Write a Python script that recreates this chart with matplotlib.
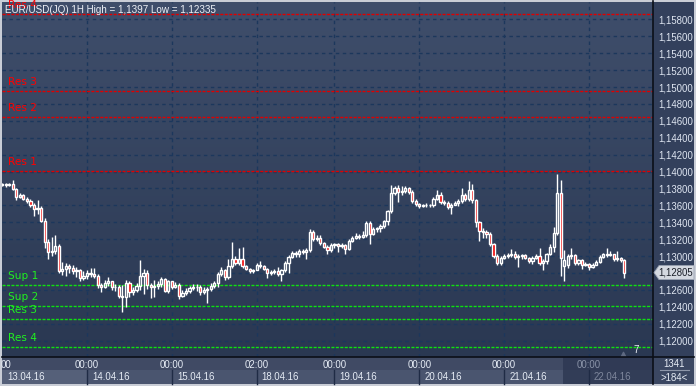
import numpy as np
import matplotlib
matplotlib.use("Agg")
import matplotlib.pyplot as plt
from matplotlib.patches import Rectangle, Polygon
from matplotlib.colors import LinearSegmentedColormap
import matplotlib.transforms as mtransforms

# ---------------- data ----------------
title = "EUR/USD(JQ) 1H High = 1,1397 Low = 1,12335"

close = [1.13850, 1.13840, 1.13855, 1.13790, 1.13700, 1.13720, 1.13680, 1.13650, 1.13600, 1.13560,
         1.13570, 1.13420, 1.13170, 1.13050, 1.13060, 1.13120, 1.12820, 1.12850, 1.12880, 1.12860,
         1.12820, 1.12830, 1.12740, 1.12760, 1.12800, 1.12790, 1.12770, 1.12660, 1.12640, 1.12680,
         1.12700, 1.12630, 1.12640, 1.12530, 1.12520, 1.12680, 1.12570, 1.12600, 1.12650, 1.12760,
         1.12800, 1.12660, 1.12640, 1.12650, 1.12670, 1.12730, 1.12590, 1.12700, 1.12640, 1.12660,
         1.12530, 1.12560, 1.12590, 1.12620, 1.12640, 1.12630, 1.12580, 1.12600, 1.12610, 1.12650,
         1.12680, 1.12790, 1.12830, 1.12750, 1.12880, 1.12960, 1.12920, 1.12970, 1.12880, 1.12850,
         1.12820, 1.12830, 1.12900, 1.12880, 1.12850, 1.12800, 1.12810, 1.12820, 1.12790, 1.12830,
         1.12920, 1.12990, 1.13040, 1.13020, 1.13060, 1.13050, 1.13070, 1.13290, 1.13200, 1.13220,
         1.13150, 1.13110, 1.13070, 1.13130, 1.13140, 1.13120, 1.13130, 1.13080, 1.13180, 1.13220,
         1.13240, 1.13230, 1.13250, 1.13390, 1.13260, 1.13320, 1.13330, 1.13360, 1.13410, 1.13530,
         1.13750, 1.13800, 1.13760, 1.13770, 1.13800, 1.13760, 1.13650, 1.13620, 1.13590, 1.13600,
         1.13610, 1.13600, 1.13680, 1.13720, 1.13640, 1.13630, 1.13580, 1.13600, 1.13630, 1.13650,
         1.13720, 1.13670, 1.13780, 1.13660, 1.13400, 1.13300, 1.13280, 1.13260, 1.13140, 1.13000,
         1.12920, 1.12980, 1.13000, 1.13010, 1.13030, 1.12990, 1.13000, 1.13010, 1.12980, 1.12940,
         1.12980, 1.13000, 1.12920, 1.12940, 1.13030, 1.13110, 1.13270, 1.13750, 1.12980, 1.12950,
         1.13000, 1.13010, 1.12920, 1.12950, 1.12890, 1.12910, 1.12870, 1.12900, 1.12930, 1.12990,
         1.13020, 1.13010, 1.13020, 1.12960, 1.12980, 1.12950, 1.12805]

open_ = [1.13845, 1.13850, 1.13840, 1.13855, 1.13790, 1.13700, 1.13720, 1.13680, 1.13650, 1.13600,
         1.13560, 1.13570, 1.13420, 1.13170, 1.13050, 1.13060, 1.13120, 1.12820, 1.12850, 1.12880,
         1.12860, 1.12820, 1.12830, 1.12740, 1.12760, 1.12800, 1.12790, 1.12770, 1.12660, 1.12640,
         1.12680, 1.12700, 1.12630, 1.12640, 1.12530, 1.12520, 1.12680, 1.12570, 1.12600, 1.12650,
         1.12760, 1.12800, 1.12660, 1.12640, 1.12650, 1.12670, 1.12730, 1.12590, 1.12700, 1.12640,
         1.12660, 1.12530, 1.12560, 1.12590, 1.12620, 1.12640, 1.12630, 1.12580, 1.12600, 1.12610,
         1.12650, 1.12680, 1.12790, 1.12830, 1.12750, 1.12880, 1.12960, 1.12920, 1.12970, 1.12880,
         1.12850, 1.12820, 1.12830, 1.12900, 1.12880, 1.12850, 1.12800, 1.12810, 1.12820, 1.12790,
         1.12830, 1.12920, 1.12990, 1.13040, 1.13020, 1.13060, 1.13050, 1.13070, 1.13290, 1.13200,
         1.13220, 1.13150, 1.13110, 1.13070, 1.13130, 1.13140, 1.13120, 1.13130, 1.13080, 1.13180,
         1.13220, 1.13240, 1.13230, 1.13250, 1.13390, 1.13260, 1.13320, 1.13330, 1.13360, 1.13410,
         1.13530, 1.13750, 1.13800, 1.13760, 1.13770, 1.13800, 1.13760, 1.13650, 1.13620, 1.13590,
         1.13600, 1.13610, 1.13600, 1.13680, 1.13720, 1.13640, 1.13630, 1.13580, 1.13600, 1.13630,
         1.13650, 1.13720, 1.13670, 1.13780, 1.13660, 1.13400, 1.13300, 1.13280, 1.13260, 1.13140,
         1.13000, 1.12920, 1.12980, 1.13000, 1.13010, 1.13030, 1.12990, 1.13000, 1.13010, 1.12980,
         1.12940, 1.12980, 1.13000, 1.12920, 1.12940, 1.13030, 1.13110, 1.13270, 1.13750, 1.12880,
         1.12890, 1.13000, 1.13010, 1.12920, 1.12950, 1.12890, 1.12910, 1.12870, 1.12900, 1.12930,
         1.12990, 1.13020, 1.13010, 1.13020, 1.12960, 1.12980, 1.12950]

high = [1.13865, 1.13860, 1.13870, 1.13900, 1.13800, 1.13750, 1.13740, 1.13700, 1.13670, 1.13630,
        1.13660, 1.13590, 1.13450, 1.13200, 1.13230, 1.13250, 1.13140, 1.12930, 1.12920, 1.12910,
        1.12900, 1.12870, 1.12850, 1.12820, 1.12830, 1.12860, 1.12860, 1.12790, 1.12680, 1.12720,
        1.12750, 1.12700, 1.12670, 1.12660, 1.12660, 1.12720, 1.12700, 1.12640, 1.12680, 1.12955,
        1.12850, 1.12830, 1.12680, 1.12720, 1.12700, 1.12750, 1.12740, 1.12720, 1.12710, 1.12690,
        1.12680, 1.12600, 1.12620, 1.12650, 1.12670, 1.12670, 1.12660, 1.12630, 1.12640, 1.12680,
        1.12710, 1.12810, 1.12870, 1.12850, 1.12970, 1.13170, 1.13000, 1.13090, 1.13110, 1.12900,
        1.12860, 1.12850, 1.12920, 1.12940, 1.12900, 1.12860, 1.12840, 1.12850, 1.12870, 1.12850,
        1.12940, 1.13010, 1.13060, 1.13060, 1.13080, 1.13080, 1.13090, 1.13320, 1.13310, 1.13250,
        1.13250, 1.13170, 1.13130, 1.13150, 1.13160, 1.13160, 1.13150, 1.13140, 1.13200, 1.13240,
        1.13270, 1.13260, 1.13300, 1.13410, 1.13410, 1.13340, 1.13350, 1.13380, 1.13430, 1.13550,
        1.13840, 1.13830, 1.13840, 1.13830, 1.13830, 1.13820, 1.13780, 1.13670, 1.13630, 1.13620,
        1.13630, 1.13620, 1.13700, 1.13780, 1.13760, 1.13660, 1.13650, 1.13630, 1.13650, 1.13670,
        1.13800, 1.13750, 1.13887, 1.13850, 1.13680, 1.13420, 1.13330, 1.13310, 1.13280, 1.13150,
        1.13020, 1.13000, 1.13030, 1.13040, 1.13080, 1.13060, 1.13020, 1.13030, 1.13030, 1.12990,
        1.13000, 1.13030, 1.13100, 1.12970, 1.13040, 1.13140, 1.13340, 1.13970, 1.13900, 1.13070,
        1.13030, 1.13100, 1.13020, 1.12970, 1.12970, 1.12930, 1.12920, 1.12920, 1.12950, 1.13010,
        1.13040, 1.13090, 1.13060, 1.13030, 1.13060, 1.12990, 1.12970]

low = [1.13830, 1.13820, 1.13830, 1.13780, 1.13660, 1.13690, 1.13660, 1.13630, 1.13580, 1.13470,
       1.13500, 1.13400, 1.13100, 1.12970, 1.13000, 1.13020, 1.12800, 1.12780, 1.12760, 1.12800,
       1.12790, 1.12750, 1.12700, 1.12720, 1.12730, 1.12750, 1.12740, 1.12620, 1.12580, 1.12620,
       1.12650, 1.12600, 1.12590, 1.12500, 1.12335, 1.12400, 1.12520, 1.12540, 1.12580, 1.12600,
       1.12550, 1.12610, 1.12500, 1.12520, 1.12610, 1.12640, 1.12570, 1.12560, 1.12610, 1.12620,
       1.12490, 1.12520, 1.12540, 1.12560, 1.12600, 1.12590, 1.12540, 1.12550, 1.12440, 1.12590,
       1.12620, 1.12640, 1.12770, 1.12720, 1.12730, 1.12860, 1.12890, 1.12900, 1.12860, 1.12830,
       1.12800, 1.12800, 1.12830, 1.12860, 1.12830, 1.12745, 1.12780, 1.12790, 1.12770, 1.12710,
       1.12810, 1.12800, 1.12980, 1.12990, 1.12990, 1.13020, 1.12970, 1.13050, 1.13180, 1.13180,
       1.13130, 1.13090, 1.13030, 1.13050, 1.13100, 1.13050, 1.13100, 1.13020, 1.13070, 1.13170,
       1.13200, 1.13200, 1.13210, 1.13230, 1.13140, 1.13250, 1.13290, 1.13280, 1.13330, 1.13370,
       1.13510, 1.13720, 1.13640, 1.13720, 1.13750, 1.13740, 1.13630, 1.13590, 1.13570, 1.13580,
       1.13580, 1.13580, 1.13580, 1.13660, 1.13620, 1.13600, 1.13560, 1.13500, 1.13600, 1.13590,
       1.13630, 1.13650, 1.13650, 1.13630, 1.13350, 1.13180, 1.13220, 1.13220, 1.13120, 1.12980,
       1.12900, 1.12900, 1.12960, 1.12980, 1.12990, 1.12970, 1.12870, 1.12970, 1.12960, 1.12920,
       1.12910, 1.12960, 1.12900, 1.12830, 1.12910, 1.13010, 1.13050, 1.13250, 1.12770, 1.12705,
       1.12860, 1.12960, 1.12900, 1.12900, 1.12850, 1.12880, 1.12840, 1.12860, 1.12890, 1.12920,
       1.12980, 1.12990, 1.13000, 1.12940, 1.12940, 1.12930, 1.12735]

# day separators (bar index), time and date labels
day_idx = [0, 24, 48, 72, 94, 118, 142, 166]
time_labels = ["00:00", "00:00", "00:00", "02:00", "00:00", "00:00", "00:00", "00:00"]
date_labels = ["13.04.16", "14.04.16", "15.04.16", "18.04.16", "19.04.16", "20.04.16", "21.04.16", "22.04.16"]

# support / resistance levels
res_red_names = ["Res 4", "Res 3", "Res 2", "Res 1"]
res_red_vals = [1.1587, 1.14955, 1.14652, 1.14008]
sup_green_names = ["Sup 1", "Sup 2", "Res 3", "Res 4"]
sup_green_vals = [1.12659, 1.12412, 1.12259, 1.11925]

y_ticks = [1.120 + 0.002 * k for k in range(20)]
last_price = 1.12805
bar_count_text = "1341"
visible_text = ">184<"

# ---------------- figure ----------------
W, H = 696, 386
fig = plt.figure(figsize=(W / 100, H / 100), dpi=100)
fig.patch.set_facecolor("#c9cdd6")

def fx(px):
    return px / W

def fy(py):
    return 1 - py / H

AX_L, AX_R, AX_T, AX_B = 2, 653, 2, 357
ax = fig.add_axes([fx(AX_L), fy(AX_B), fx(AX_R) - fx(AX_L), fy(AX_T) - fy(AX_B)])
XMIN, XMAX = -0.05, 184.1
YMIN, YMAX = 1.11806, 1.16007
ax.set_xlim(XMIN, XMAX)
ax.set_ylim(YMIN, YMAX)

# gradient background
cmap = LinearSegmentedColormap.from_list("bg", ["#2a3852", "#3f4e6b"])
grad = np.linspace(0, 1, 256).reshape(-1, 1)
ax.imshow(grad, extent=[0, 1, 0, 1], transform=ax.transAxes, cmap=cmap,
          aspect="auto", origin="lower", zorder=0)

for s in ax.spines.values():
    s.set_visible(False)

# grid
grid_c = "#1c375c"
for v in y_ticks:
    ax.axhline(v, color=grid_c, lw=1.0, ls=(0, (2.5, 2.5)), zorder=1)
for d in day_idx[1:]:
    ax.axvline(d, color=grid_c, lw=1.0, ls=(0, (2.5, 2.5)), zorder=1)

# levels
for name, v in zip(res_red_names, res_red_vals):
    ax.axhline(v, color="#e00000", lw=1.0, ls=(0, (2.2, 1)), zorder=2)
    ax.annotate(name, xy=(0, v), xycoords=("axes fraction", "data"),
                xytext=(6, 3.5), textcoords="offset pixels", color="#ff0000",
                fontsize=7.6, family="DejaVu Sans", va="bottom", ha="left", zorder=3)
for name, v in zip(sup_green_names, sup_green_vals):
    ax.axhline(v, color="#10e010", lw=1.0, ls=(0, (2.2, 1)), zorder=2)
    ax.annotate(name, xy=(0, v), xycoords=("axes fraction", "data"),
                xytext=(6, 3.5), textcoords="offset pixels", color="#20f020",
                fontsize=7.6, family="DejaVu Sans", va="bottom", ha="left", zorder=3)

# candles
o = np.array(open_); c = np.array(close); h = np.array(high); l = np.array(low)
x = np.arange(len(c))
top = np.maximum(o, c); bot = np.minimum(o, c)
ax.vlines(x, top, h, color="white", lw=1.0, zorder=4)
ax.vlines(x, l, bot, color="white", lw=1.0, zorder=4)
bw = 0.62
up = c >= o
body_h = np.maximum(top - bot, 0.00002)
ax.bar(x[up], body_h[up], bottom=bot[up], width=bw, facecolor="none",
       edgecolor="white", linewidth=1.0, zorder=5)
ax.bar(x[~up], body_h[~up], bottom=bot[~up], width=bw, facecolor="#ee0000",
       edgecolor="white", linewidth=1.0, zorder=5)

# right price axis
ax.yaxis.tick_right()
ax.set_yticks(y_ticks)
ax.set_yticklabels([("%.5f" % v).replace(".", ",") for v in y_ticks])
ax.tick_params(axis="y", length=0, pad=4, labelsize=6.9, labelcolor="#dfe6f2")
for t in ax.get_yticklabels():
    t.set_family("Liberation Sans")
ax.set_xticks([])

# title
ax.text(3 / (AX_R - AX_L), 1 - 8 / (AX_B - AX_T), title, transform=ax.transAxes,
        color="#eef1f7", fontsize=7.1, family="Liberation Sans", va="center", ha="left", zorder=6)

# right panel background
fig.add_artist(Rectangle((fx(AX_R), fy(AX_B)), fx(694) - fx(AX_R), fy(2) - fy(AX_B),
                         transform=fig.transFigure, facecolor="#33405c", edgecolor="none", zorder=-5))
# bottom panel
fig.add_artist(Rectangle((fx(2), fy(384)), fx(AX_R) - fx(2), fy(AX_B) - fy(384),
                         transform=fig.transFigure, facecolor="#4a556f", edgecolor="none", zorder=-5))
fig.add_artist(Rectangle((fx(2), fy(370)), fx(AX_R) - fx(2), fy(AX_B) - fy(370),
                         transform=fig.transFigure, facecolor="#404a64", edgecolor="none", zorder=-4))
fig.add_artist(Rectangle((fx(AX_R), fy(384)), fx(694) - fx(AX_R), fy(AX_B) - fy(384),
                         transform=fig.transFigure, facecolor="#3b4762", edgecolor="none", zorder=-4))

# bottom labels bound to data x
blend = mtransforms.blended_transform_factory(ax.transData, fig.transFigure)
px_per_unit = (AX_R - AX_L) / (XMAX - XMIN)
fig.add_artist(Rectangle((XMIN, fy(384)), (day_idx[1] - XMIN), fy(370) - fy(384),
                         transform=blend, facecolor="#556079", edgecolor="none", zorder=-3))
for i, (d, tl, dl) in enumerate(zip(day_idx, time_labels, date_labels)):
    last = i == len(day_idx) - 1
    tc = "#8a93a8" if last else "#e6ecf5"
    dc = "#7e879c" if last else "#e6ecf5"
    txt = fig.text(d, fy(365), tl, transform=blend, color=tc, fontsize=6.9,
                   family="Liberation Sans", ha="center", va="center", zorder=3)
    if i == 0:
        txt.set_text(tl[-2:])
        txt.set_x(d + 4 / px_per_unit)
    fig.text(d + 5 / px_per_unit, fy(377), dl, transform=blend, color=dc, fontsize=6.9,
             family="Liberation Sans", ha="left", va="center", zorder=3)
    if i > 0:
        fig.add_artist(plt.Line2D([d, d], [fy(370), fy(384)], transform=blend,
                                  color="#1f2b45", lw=1, zorder=2))
# darker overlay on the right of the time scale
ov_start = 158.6
fig.add_artist(Rectangle((ov_start, fy(384)), XMAX - ov_start, fy(AX_B) - fy(384),
                         transform=blend, facecolor="#2b3550", alpha=0.75, edgecolor="none", zorder=1))

# separator lines
fig.add_artist(plt.Line2D([fx(AX_R), fx(AX_R)], [fy(384), fy(1)], transform=fig.transFigure,
                          color="#0b0f18", lw=1.2, zorder=10))
fig.add_artist(plt.Line2D([fx(2), fx(694)], [fy(AX_B), fy(AX_B)], transform=fig.transFigure,
                          color="#0b0f18", lw=1.2, zorder=10))

# bar count box
fig.text(fx(674), fy(364), bar_count_text, color="#e6ecf5", fontsize=6.9,
         family="Liberation Sans", ha="center", va="center")
fig.add_artist(plt.Line2D([fx(660), fx(689)], [fy(370), fy(370)], transform=fig.transFigure,
                          color="#8e97aa", lw=0.8))
fig.text(fx(674), fy(378), visible_text, color="#e6ecf5", fontsize=6.9,
         family="Liberation Sans", ha="center", va="center")

# "7" marker
ax.annotate("7", xy=(1, YMIN), xycoords=("axes fraction", "data"), xytext=(-20, 2),
            textcoords="offset pixels", color="#eef1f7", fontsize=7, family="Liberation Sans",
            ha="left", va="bottom", zorder=6)
tri_x = XMAX - 30 / px_per_unit
ax.scatter([tri_x], [YMIN + 2.5 / 8450], marker="^", s=10, color="#5f6a82", zorder=6, clip_on=False)

# last price tag
blend2 = mtransforms.blended_transform_factory(fig.transFigure, ax.transData)
tag_h = 7 / 8450
poly = Polygon([[fx(654), last_price], [fx(659), last_price + tag_h], [fx(694), last_price + tag_h],
                [fx(694), last_price - tag_h], [fx(659), last_price - tag_h]],
               closed=True, transform=blend2, facecolor="#d4d8e0", edgecolor="#9aa2b2",
               lw=0.6, zorder=20, clip_on=False)
fig.add_artist(poly)
fig.text(fx(676), last_price, ("%.5f" % last_price).replace(".", ","), transform=blend2,
         color="#1a1e28", fontsize=6.9, family="Liberation Sans", ha="center", va="center", zorder=21)

fig.savefig("out.png", dpi=100, facecolor=fig.get_facecolor())
